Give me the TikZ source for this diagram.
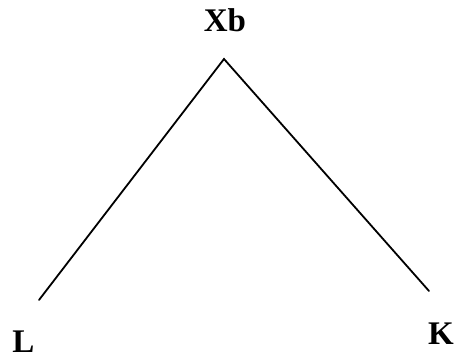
\documentclass[tikz,border=0pt]{standalone}
\usepackage{fontspec}
\setmainfont{Liberation Serif}
\begin{document}
\begin{tikzpicture}[x=1pt,y=1pt,
  lbl/.style={inner sep=0pt,anchor=base,font=\fontsize{33}{33}\selectfont\bfseries},
  edge/.style={line width=1.8pt,line cap=round}]
\useasboundingbox (0,0) rectangle (455,358);
\coordinate (apex) at (224,299);
\coordinate (lend) at (39,58);
\coordinate (rend) at (429,67);
\node[lbl] (xb) at (225,326) {Xb};
\node[lbl] (l) at (23.5,5) {L};
\node[lbl] (k) at (441,13) {K};
\draw[edge] (lend) -- (apex) -- (rend);
\end{tikzpicture}
\end{document}
